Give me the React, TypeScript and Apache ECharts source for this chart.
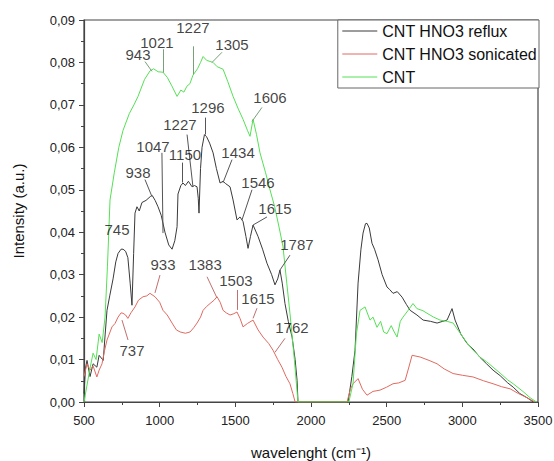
import React, { useEffect, useRef } from "react";
import * as echarts from "echarts";

// CNT (green)
const cntX = [500,520,540,560,580,600,620,639,655,672,700,730,758,800,830,857,900,936,960,990,1022,1050,1080,1115,1140,1160,1180,1200,1220,1250,1270,1287,1310,1353,1380,1419,1450,1485,1520,1551,1580,1597,1617,1640,1663,1700,1729,1760,1790,1815,1840,1861,1890,1914,2250,2278,2300,2324,2357,2390,2410,2436,2460,2480,2502,2530,2550,2569,2590,2608,2640,2674,2700,2740,2767,2810,2853,2900,2939,2980,3030,3071,3120,3160,3203,3250,3300,3336,3400,3448,3490];
const cntY = [0,0.004,0.008,0.0115,0.010,0.016,0.014,0.020,0.032,0.0476,0.054,0.060,0.064,0.068,0.070,0.072,0.076,0.078,0.0785,0.0778,0.0777,0.0765,0.0745,0.072,0.0735,0.073,0.0744,0.075,0.077,0.0785,0.080,0.0814,0.0805,0.080,0.079,0.0784,0.0755,0.072,0.069,0.0666,0.064,0.0626,0.0666,0.063,0.0587,0.054,0.050,0.046,0.041,0.0366,0.028,0.0209,0.010,0,0,0.0044,0.016,0.0216,0.0224,0.0193,0.020,0.0176,0.019,0.0165,0.0161,0.018,0.0165,0.0153,0.019,0.020,0.0215,0.0232,0.022,0.0215,0.0209,0.020,0.0193,0.019,0.0186,0.0165,0.0140,0.0122,0.0105,0.0095,0.0082,0.0068,0.0052,0.0043,0.0025,0.001,0];

// CNT HNO3 reflux (black)
const refluxX = [500,510,520,540,560,585,600,627,640,652,670,692,710,725,745,758,775,790,805,817,828,837,850,865,883,910,938,950,970,989,1010,1035,1060,1082,1100,1115,1121,1140,1154,1170,1190,1214,1230,1247,1255,1260,1270,1280,1296,1310,1330,1353,1375,1399,1419,1434,1465,1485,1511,1531,1551,1570,1584,1600,1617,1650,1680,1709,1740,1762,1780,1795,1810,1828,1850,1875,1895,1908,1914,2245,2270,2291,2311,2330,2344,2360,2370,2385,2403,2420,2443,2470,2502,2520,2542,2570,2602,2630,2655,2700,2741,2790,2833,2870,2899,2920,2932,2952,2990,3031,3070,3117,3160,3203,3250,3300,3336,3380,3428,3470];
const refluxY = [0.002,0.008,0.0098,0.006,0.009,0.0082,0.011,0.0098,0.016,0.0216,0.025,0.029,0.033,0.035,0.036,0.036,0.0355,0.034,0.028,0.0228,0.035,0.0445,0.046,0.045,0.047,0.0475,0.0484,0.0487,0.0475,0.046,0.044,0.040,0.037,0.036,0.038,0.0413,0.049,0.051,0.0516,0.051,0.052,0.0507,0.051,0.0507,0.048,0.0445,0.055,0.060,0.063,0.0625,0.061,0.0587,0.055,0.0516,0.052,0.0515,0.0507,0.0476,0.0429,0.0436,0.0425,0.039,0.0362,0.039,0.0417,0.039,0.036,0.0327,0.030,0.0276,0.029,0.0311,0.028,0.0232,0.019,0.0153,0.010,0.0051,0,0,0.006,0.0122,0.028,0.036,0.0398,0.042,0.0421,0.041,0.0374,0.036,0.0335,0.030,0.0271,0.0265,0.0256,0.026,0.0247,0.023,0.0216,0.0205,0.0193,0.019,0.0186,0.019,0.0193,0.021,0.022,0.0193,0.016,0.0138,0.0125,0.0105,0.009,0.0075,0.0062,0.0045,0.0035,0.002,0.001,0];

// CNT HNO3 sonicated (red)
const sonicX = [500,520,540,560,585,600,619,635,652,685,705,725,745,758,775,790,810,837,860,890,915,936,969,1000,1022,1050,1082,1110,1135,1170,1201,1225,1247,1270,1287,1310,1333,1360,1379,1400,1419,1440,1465,1490,1511,1531,1551,1580,1617,1650,1683,1720,1749,1780,1808,1835,1861,1880,1895,2238,2260,2278,2311,2340,2370,2410,2456,2500,2542,2580,2622,2645,2668,2721,2780,2833,2880,2939,3000,3071,3140,3203,3260,3316,3370,3428,3480];
const sonicY = [0.006,0.009,0.0075,0.0085,0.0059,0.0075,0.009,0.012,0.0146,0.0177,0.0185,0.020,0.021,0.0209,0.0205,0.0197,0.021,0.0224,0.024,0.0248,0.025,0.0256,0.0248,0.0235,0.0216,0.0205,0.0186,0.017,0.0165,0.0162,0.0165,0.0175,0.0186,0.020,0.0216,0.0225,0.0232,0.024,0.0248,0.0235,0.0216,0.021,0.0205,0.0208,0.0212,0.0197,0.0177,0.0185,0.0193,0.017,0.0153,0.0138,0.0122,0.010,0.0082,0.006,0.0043,0.002,0,0,0.003,0.0043,0.0055,0.003,0.0016,0.0025,0.0028,0.0035,0.0043,0.0045,0.0051,0.008,0.011,0.0106,0.0098,0.009,0.0078,0.0067,0.0063,0.0059,0.005,0.0043,0.0036,0.0031,0.002,0.001,0];

const seriesNames = ["CNT HNO3 reflux", "CNT HNO3 sonicated", "CNT"];
const xTicks = [500, 1000, 1500, 2000, 2500, 3000, 3500];

// peak annotations: label, label anchor (x,y), leader from (x1,y1) to (x2,y2), curve group
const annLabels = ["943","1021","1227","1305","1606","1296","1227","1150","1047","938","1434","1546","1615","1787","745","933","1383","1503","1615","1762","737"];
const annTextX = [857,982,1220,1478,1729,1319,1134,1167,956,857,1518,1650,1762,1907,718,1022,1300,1504,1650,1874,817];
const annTextY = [0.0819,0.0847,0.0883,0.0842,0.0717,0.0694,0.0653,0.0583,0.0602,0.054,0.0587,0.0516,0.0457,0.037,0.0406,0.0323,0.0323,0.0287,0.0245,0.0176,0.0122];
const annFromX = [903,1022,1220,1412,1676,1300,1181,1148,1015,903,1478,1610,1709,1861,null,1002,1313,1511,1643,1828,791];
const annFromY = [0.0802,0.0831,0.0838,0.0824,0.0694,0.067,0.063,0.0564,0.0587,0.0524,0.0571,0.05,0.0436,0.0346,null,0.0299,0.0295,0.0264,0.0221,0.015,0.0146];
const annToX = [949,1022,1220,1346,1610,1300,1220,1148,1022,949,1419,1544,1617,1795,null,969,1379,1511,1617,1762,751];
const annToY = [0.0779,0.0776,0.0772,0.08,0.0661,0.063,0.0507,0.0517,0.0398,0.0484,0.0517,0.0429,0.0417,0.0311,null,0.0257,0.0245,0.0217,0.0197,0.0117,0.0193];
const annGroup = ["g","g","g","g","g","k","k","k","k","k","k","k","k","k","k","r","r","r","r","r","r"];

const colors = { k: "#3a3a3a", r: "#e06a60", g: "#55e055" };
const leaderColors = { k: "#555555", r: "#c07070", g: "#7aa07a" };

const FONT = "'Liberation Sans', Arial, sans-serif";

function pairs(xs: number[], ys: number[]) {
  return xs.map((x, i) => [x, ys[i]]);
}

export default function App() {
  const ref = useRef<HTMLDivElement>(null);
  useEffect(() => {
    if (!ref.current) return;
    document.body.style.margin = "0";
    const chart = echarts.init(ref.current, null, { renderer: "svg" });
    const lineBase = {
      type: "line",
      symbol: "none",
      lineStyle: { width: 1 },
      z: 2,
    };
    const textData = annLabels.map((l, i) => ({ value: [annTextX[i], annTextY[i]], name: l }));
    const leaderData: any[] = [];
    annLabels.forEach((_, i) => {
      if (annFromX[i] === null) return;
      leaderData.push([
        { coord: [annFromX[i], annFromY[i]], lineStyle: { color: (leaderColors as any)[annGroup[i]], width: 1, type: "solid" } },
        { coord: [annToX[i], annToY[i]] },
      ]);
    });
    chart.setOption({
      animation: false,
      textStyle: { fontFamily: FONT },
      grid: {
        left: 84, right: 16, top: 20, bottom: 59,
        show: true, borderColor: "#444", borderWidth: 1.2,
        containLabel: false, outerBoundsMode: "none",
      },
      legend: {
        data: seriesNames,
        orient: "vertical",
        right: 15,
        top: 20,
        backgroundColor: "#fff",
        borderColor: "#666",
        borderWidth: 1,
        borderRadius: 0,
        padding: [3, 2, 3, 4],
        itemWidth: 35,
        itemHeight: 14,
        itemGap: 7,
        itemStyle: { opacity: 0 },
        lineStyle: { width: 1 },
        textStyle: { fontSize: 16, color: "#111", fontFamily: FONT, padding: [0, 0, 0, 0] },
      },
      xAxis: {
        type: "value",
        min: 500,
        max: 3500,
        interval: 500,
        name: "wavelenght (cm⁻¹)",
        nameLocation: "middle",
        nameGap: 43,
        nameTextStyle: { fontSize: 15, color: "#111", fontFamily: FONT },
        axisLine: { lineStyle: { color: "#444", width: 1.2 } },
        axisTick: { inside: false, length: 5, lineStyle: { color: "#444" } },
        minorTick: { show: true, splitNumber: 2, length: 3, lineStyle: { color: "#444" } },
        splitLine: { show: false },
        axisLabel: {
          fontSize: 13,
          color: "#222",
          margin: 12,
          formatter: (v: number) => (xTicks.includes(v) ? String(v) : ""),
        },
      },
      yAxis: {
        type: "value",
        min: 0,
        max: 0.09,
        interval: 0.01,
        name: "Intensity (a.u.)",
        nameLocation: "middle",
        nameGap: 58,
        nameTextStyle: { fontSize: 15, color: "#111", fontFamily: FONT },
        axisLine: { show: true, lineStyle: { color: "#444", width: 1.2 } },
        axisTick: { show: true, inside: false, length: 5, lineStyle: { color: "#444" } },
        minorTick: { show: true, splitNumber: 2, length: 3, lineStyle: { color: "#444" } },
        splitLine: { show: false },
        axisLabel: {
          fontSize: 13,
          color: "#222",
          margin: 9,
          formatter: (v: number) => v.toFixed(2).replace(".", ","),
        },
      },
      series: [
        { ...lineBase, name: seriesNames[0], data: pairs(refluxX, refluxY), itemStyle: { color: colors.k }, lineStyle: { width: 1, color: colors.k } },
        { ...lineBase, name: seriesNames[1], data: pairs(sonicX, sonicY), itemStyle: { color: colors.r }, lineStyle: { width: 1, color: colors.r } },
        { ...lineBase, name: seriesNames[2], data: pairs(cntX, cntY), itemStyle: { color: colors.g }, lineStyle: { width: 1, color: colors.g } },
        {
          type: "scatter",
          name: "annotations",
          symbolSize: 0,
          silent: true,
          z: 5,
          data: textData,
          label: {
            show: true,
            position: "inside",
            formatter: (p: any) => p.name,
            fontSize: 15,
            color: "#111",
            fontFamily: FONT,
          },
          markLine: {
            silent: true,
            symbol: ["none", "none"],
            label: { show: false },
            animation: false,
            data: leaderData,
          },
        },
      ],
    });
    return () => chart.dispose();
  }, []);
  return <div ref={ref} style={{ width: 554, height: 461 }} />;
}
